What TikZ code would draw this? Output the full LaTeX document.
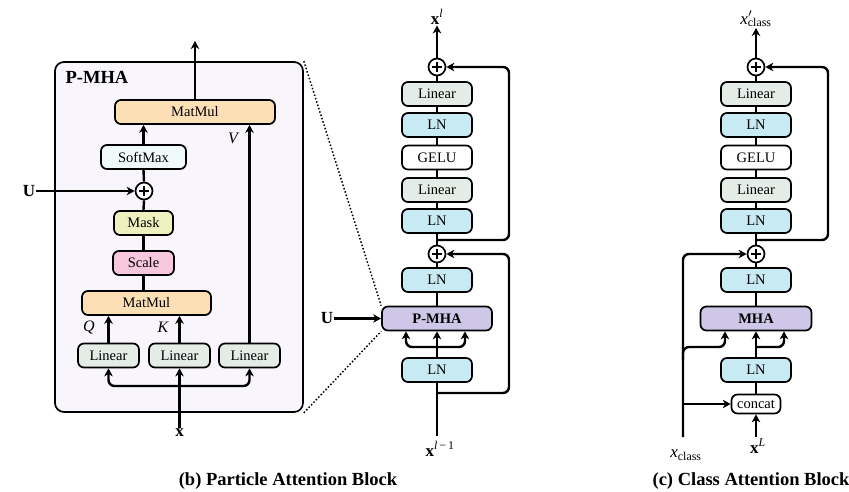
\documentclass[tikz,border=0pt]{standalone}
\usepackage{fontspec}
\setmainfont{Liberation Serif}
\usetikzlibrary{arrows.meta}
\definecolor{panelbg}{HTML}{F8F5FD}
\definecolor{matmulc}{HTML}{FDDFB6}
\definecolor{softmaxc}{HTML}{F1FAFA}
\definecolor{maskc}{HTML}{EFF0C0}
\definecolor{scalec}{HTML}{F6C7DF}
\definecolor{linearc}{HTML}{E4ECE7}
\definecolor{lnc}{HTML}{C8EAF3}
\definecolor{mhac}{HTML}{CEC7E8}
\newcommand{\fs}[1]{\fontsize{#1}{#1}\selectfont}
\tikzset{
  blk/.style={draw, line width=1.7pt, rounded corners=6pt, minimum height=24pt,
    inner sep=0pt, font=\fs{14.5}},
  linbox/.style={blk, fill=linearc, minimum width=70pt},
  lnbox/.style={blk, fill=lnc, minimum width=70pt},
  gelubox/.style={blk, fill=white, minimum width=70pt},
  oplus/.style={circle, draw, line width=1.7pt, fill=white, minimum size=17pt, inner sep=0pt,
    path picture={\draw[line width=2.6pt]
      ([xshift=-5pt]path picture bounding box.center) -- ([xshift=5pt]path picture bounding box.center)
      ([yshift=-5pt]path picture bounding box.center) -- ([yshift=5pt]path picture bounding box.center);}},
  wire/.style={line width=2.4pt},
  arr/.style={wire, -{Stealth[length=8pt,width=8.5pt,inset=2.5pt]}},
  lbl/.style={inner sep=1pt, font=\fs{17}},
  captext/.style={inner sep=0pt, font=\fs{18.5}\bfseries},
}
\begin{document}
\begin{tikzpicture}[x=1pt,y=-1pt]
\useasboundingbox (0,0) rectangle (849,492);

% ---------------- P-MHA detail ----------------
\node (pm) [draw, line width=1.7pt, fill=panelbg, rounded corners=9pt,
  minimum width=248pt, minimum height=350pt] at (179,237) {};
\node (pmt) [inner sep=0pt, font=\fs{18.5}\bfseries] at (97,77) {P-MHA};

\node (mm2) [blk, fill=matmulc, minimum width=160pt] at (195,112) {MatMul};
\node (sm) [blk, fill=softmaxc, minimum width=85pt] at (143.5,157) {SoftMax};
\node (op1) [oplus] at (144,191) {};
\node (mask) [blk, fill=maskc, minimum width=59pt] at (143.5,223) {Mask};
\node (scale) [blk, fill=scalec, minimum width=61pt] at (143.5,263) {Scale};
\node (mm1) [blk, fill=matmulc, minimum width=129pt] at (146.5,303) {MatMul};
\node (lq) [blk, fill=linearc, minimum width=61pt] at (108.5,355.5) {Linear};
\node (lk) [blk, fill=linearc, minimum width=61pt] at (179.5,355.5) {Linear};
\node (lv) [blk, fill=linearc, minimum width=61pt] at (249.5,355.5) {Linear};

\node (U1) [lbl] at (29,191) {\bfseries U};
\node (xin) [lbl] at (179.5,433) {\bfseries x};
\node (Q) [lbl, font=\fs{16}\itshape] at (89,327) {Q};
\node (K) [lbl, font=\fs{16}\itshape] at (163,327) {K};
\node (V) [lbl, font=\fs{16}\itshape] at (233,138) {V};
\coordinate (pmout) at (195,41);
\coordinate (xbr) at (179.5,386);

\draw[arr] (mm2.north) -- (pmout);
\draw[arr] (sm.north) -- (sm.north |- mm2.south);
\draw[wire] (op1.north) -- (sm.south);
\draw[arr] (U1.east) -- (op1.west);
\draw[wire] (mask.north) -- (op1.south);
\draw[wire] (scale.north) -- (mask.south);
\draw[wire] (scale.south) -- (scale.south |- mm1.north);
\draw[arr] (lq.north) -- (lq.north |- mm1.south);
\draw[arr] (lk.north) -- (lk.north |- mm1.south);
\draw[arr] (lv.north) -- (lv.north |- mm2.south);
\draw[arr] (xin.north) -- (lk.south);
\draw[arr, rounded corners=6pt] (xbr) -| (lq.south);
\draw[arr, rounded corners=6pt] (xbr) -| (lv.south);

% ---------------- Particle attention block ----------------
\node (bxl) [lbl] at (437,17) {\bfseries x\textsuperscript{\normalfont\itshape l}};
\node (bo2) [oplus] at (437,67) {};
\node (bf4) [linbox] at (437,94) {Linear};
\node (bf3) [lnbox] at (437,125) {LN};
\node (bf2) [gelubox] at (437,157.5) {GELU};
\node (bf1) [linbox] at (437,190) {Linear};
\node (bf0) [lnbox] at (437,221) {LN};
\node (bo1) [oplus] at (437,254) {};
\node (bln2) [lnbox] at (437,280) {LN};
\node (pmha) [blk, fill=mhac, minimum width=110pt] at (437,318.5) {\bfseries P-MHA};
\node (bln1) [lnbox] at (437,370) {LN};
\node (bxin) [lbl] at (440,449) {\bfseries x\textsuperscript{\normalfont\itshape l\/\upshape\,−\,1}};
\node (U2) [lbl] at (327,318.5) {\bfseries U};
\coordinate (br1) at (437,240);
\coordinate (br0) at (437,393);
\coordinate (bsp) at (437,347);
\coordinate (bres) at (509,0);
\coordinate (bin) at (437,436);

\draw[arr] (bo2.north) -- (bxl.south);
\draw[wire] (bf4.north) -- (bo2.south);
\draw[wire] (bf3.north) -- (bf4.south);
\draw[wire] (bf2.north) -- (bf3.south);
\draw[wire] (bf1.north) -- (bf2.south);
\draw[wire] (bf0.north) -- (bf1.south);
\draw[wire] (bo1.north) -- (bf0.south);
\draw[wire] (bln2.north) -- (bo1.south);
\draw[wire] (pmha.north) -- (bln2.south);
\draw[arr] (bln1.north) -- (pmha.south);
\draw[arr, rounded corners=6pt] (bsp) -| ([xshift=-31pt]pmha.south);
\draw[arr, rounded corners=6pt] (bsp) -| ([xshift=28pt]pmha.south);
\draw[wire] (bin) -- (bln1.south);
\draw[arr, rounded corners=6pt] (br1) -- (br1 -| bres) -- (bres |- bo2) -- (bo2.east);
\draw[arr, rounded corners=6pt] (br0) -- (br0 -| bres) -- (bres |- bo1) -- (bo1.east);
\draw[arr] (U2.east) -- (pmha.west);

% zoom lines between the block and its detail
\draw[line width=1.5pt, dotted] (pm.north east) -- (pmha.north west);
\draw[line width=1.5pt, dotted] (pm.south east) -- (pmha.south west);

% ---------------- Class attention block ----------------
\node (cxo) [lbl] at (756,19) {\itshape x\rlap{\textsuperscript{\upshape\kern0.5pt$\prime$}}\textsubscript{\upshape class}};
\node (co2) [oplus] at (756,67) {};
\node (cf4) [linbox] at (756,94) {Linear};
\node (cf3) [lnbox] at (756,125) {LN};
\node (cf2) [gelubox] at (756,157.5) {GELU};
\node (cf1) [linbox] at (756,190) {Linear};
\node (cf0) [lnbox] at (756,221) {LN};
\node (co1) [oplus] at (756,254) {};
\node (cln2) [lnbox] at (756,280) {LN};
\node (mha) [blk, fill=mhac, minimum width=111pt] at (756,318.5) {\bfseries MHA};
\node (cln1) [lnbox] at (756,370) {LN};
\node (cat) [blk, fill=white, minimum width=49pt, minimum height=19pt, rounded corners=6pt] at (756,404) {concat};
\node (cxL) [lbl] at (758,446) {\bfseries x\textsuperscript{\normalfont\itshape L}};
\node (cxc) [lbl] at (686,455) {\itshape x\textsubscript{\upshape class}};
\coordinate (cl) at (683,437);
\coordinate (cr1) at (756,240);
\coordinate (cres) at (828,0);
\coordinate (csp) at (756,347);
\coordinate (cq) at (725,0);
\coordinate (cv) at (784,0);
\coordinate (cin) at (756,437);

\draw[arr] (co2.north) -- (cxo.south);
\draw[wire] (cf4.north) -- (co2.south);
\draw[wire] (cf3.north) -- (cf4.south);
\draw[wire] (cf2.north) -- (cf3.south);
\draw[wire] (cf1.north) -- (cf2.south);
\draw[wire] (cf0.north) -- (cf1.south);
\draw[wire] (co1.north) -- (cf0.south);
\draw[wire] (cln2.north) -- (co1.south);
\draw[wire] (mha.north) -- (cln2.south);
\draw[arr] (cln1.north) -- (mha.south);
\draw[arr, rounded corners=6pt] (csp) -| (cv |- mha.south);
\draw[wire] (cat.north) -- (cln1.south);
\draw[arr] (cin) -- (cat.south);
\draw[arr, rounded corners=6pt] (cr1) -- (cr1 -| cres) -- (cres |- co2) -- (co2.east);
\draw[arr, rounded corners=6pt] (cl) -- (cl |- co1) -- (co1.west);
\draw[arr, rounded corners=6pt] (cl |- 0,360) -- (cl |- csp) -- (cq |- csp) -- (cq |- mha.south);
\draw[arr] (cl |- cat) -- (cat.west);

% ---------------- captions ----------------
\node (capb) [captext] at (288,481) {(b) Particle Attention Block};
\node (capc) [captext] at (751,481) {(c) Class Attention Block};
\end{tikzpicture}
\end{document}
